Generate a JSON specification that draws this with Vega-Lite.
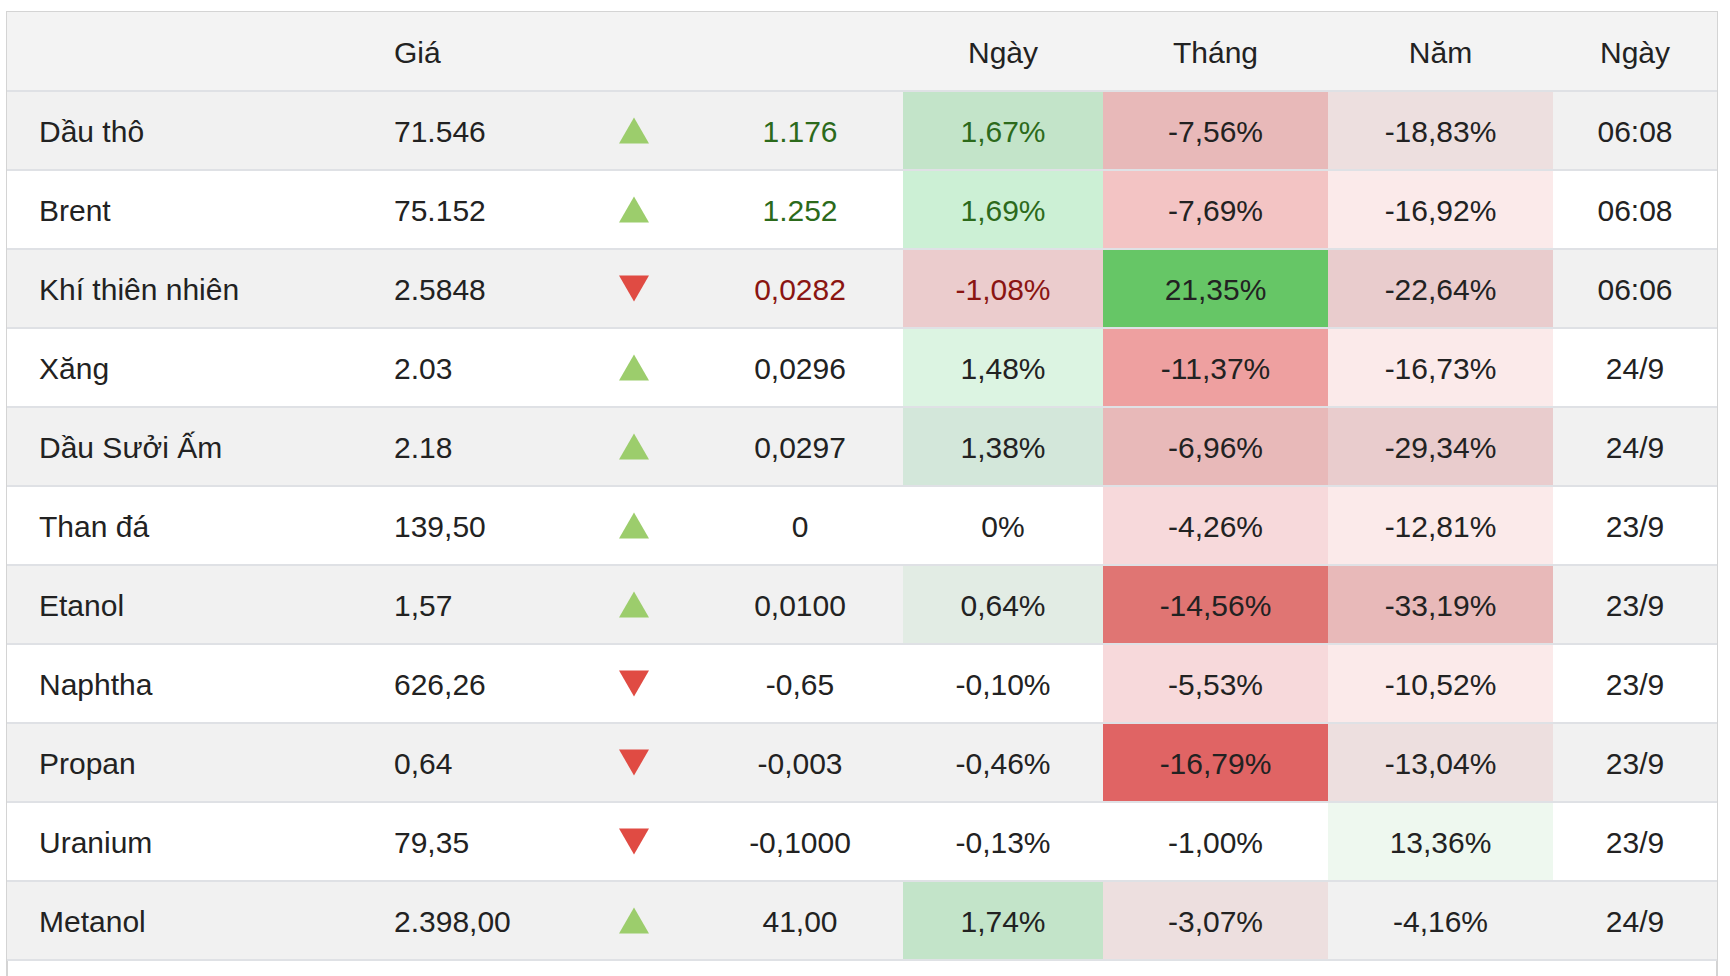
{
  "$schema": "https://vega.github.io/schema/vega-lite/v6.json",
  "width": 1710,
  "height": 968,
  "autosize": {"type": "none"},
  "padding": {"left": 7, "top": 12, "right": 13, "bottom": 0},
  "background": "#ffffff",
  "config": {
    "view": {"stroke": "#d4d4d4", "strokeWidth": 2},
    "text": {"font": "Liberation Sans", "fontSize": 30, "baseline": "middle", "color": "#222222", "dy": 2}
  },
  "datasets": {
    "rows": [
      {"name": "Dầu thô", "gia": "71.546", "dir": "up", "chg": "1.176", "day": "1,67%", "mon": "-7,56%", "yr": "-18,83%", "time": "06:08"},
      {"name": "Brent", "gia": "75.152", "dir": "up", "chg": "1.252", "day": "1,69%", "mon": "-7,69%", "yr": "-16,92%", "time": "06:08"},
      {"name": "Khí thiên nhiên", "gia": "2.5848", "dir": "down", "chg": "0,0282", "day": "-1,08%", "mon": "21,35%", "yr": "-22,64%", "time": "06:06"},
      {"name": "Xăng", "gia": "2.03", "dir": "up", "chg": "0,0296", "day": "1,48%", "mon": "-11,37%", "yr": "-16,73%", "time": "24/9"},
      {"name": "Dầu Sưởi Ấm", "gia": "2.18", "dir": "up", "chg": "0,0297", "day": "1,38%", "mon": "-6,96%", "yr": "-29,34%", "time": "24/9"},
      {"name": "Than đá", "gia": "139,50", "dir": "up", "chg": "0", "day": "0%", "mon": "-4,26%", "yr": "-12,81%", "time": "23/9"},
      {"name": "Etanol", "gia": "1,57", "dir": "up", "chg": "0,0100", "day": "0,64%", "mon": "-14,56%", "yr": "-33,19%", "time": "23/9"},
      {"name": "Naphtha", "gia": "626,26", "dir": "down", "chg": "-0,65", "day": "-0,10%", "mon": "-5,53%", "yr": "-10,52%", "time": "23/9"},
      {"name": "Propan", "gia": "0,64", "dir": "down", "chg": "-0,003", "day": "-0,46%", "mon": "-16,79%", "yr": "-13,04%", "time": "23/9"},
      {"name": "Uranium", "gia": "79,35", "dir": "down", "chg": "-0,1000", "day": "-0,13%", "mon": "-1,00%", "yr": "13,36%", "time": "23/9"},
      {"name": "Metanol", "gia": "2.398,00", "dir": "up", "chg": "41,00", "day": "1,74%", "mon": "-3,07%", "yr": "-4,16%", "time": "24/9"}
    ],
    "header": [{"name": "header"}]
  },
  "resolve": {"scale": {"fill": "independent", "color": "independent"}},
  "layer": [
    {
      "data": {"name": "rows"},
      "mark": {"type": "rect"},
      "encoding": {
        "x": {"datum": 0, "type": "quantitative", "axis": null,
              "scale": {"type": "linear", "domain": [0, 1, 2, 3, 4, 5, 6, 7, 8, 9], "range": [0, 32, 387, 627, 793, 896, 1096, 1321, 1546, 1710], "nice": false, "zero": false}},
        "x2": {"datum": 9},
        "y": {"field": "name", "type": "nominal", "axis": null,
              "scale": {"type": "band", "domain": ["header", "Dầu thô", "Brent", "Khí thiên nhiên", "Xăng", "Dầu Sưởi Ấm", "Than đá", "Etanol", "Naphtha", "Propan", "Uranium", "Metanol"], "range": [0, 948], "paddingInner": 0, "paddingOuter": 0}},
        "fill": {"field": "name", "type": "nominal", "legend": null,
                 "scale": {"domain": ["Dầu thô", "Brent", "Khí thiên nhiên", "Xăng", "Dầu Sưởi Ấm", "Than đá", "Etanol", "Naphtha", "Propan", "Uranium", "Metanol"],
                           "range": ["#f1f1f1", "#ffffff", "#f1f1f1", "#ffffff", "#f1f1f1", "#ffffff", "#f1f1f1", "#ffffff", "#f1f1f1", "#ffffff", "#f1f1f1"]}}
      }
    },
    {
      "data": {"name": "header"},
      "mark": {"type": "rect", "fill": "#f3f3f3"},
      "encoding": {
        "x": {"datum": 0, "type": "quantitative", "axis": null},
        "x2": {"datum": 9},
        "y": {"field": "name", "type": "nominal", "axis": null}
      }
    },
    {
      "data": {"name": "rows"},
      "mark": {"type": "rect"},
      "encoding": {
        "x": {"datum": 5, "type": "quantitative", "axis": null},
        "x2": {"datum": 6},
        "y": {"field": "name", "type": "nominal", "axis": null},
        "fill": {"field": "day", "type": "nominal", "legend": null,
                 "scale": {"domain": ["1,67%", "1,69%", "-1,08%", "1,48%", "1,38%", "0%", "0,64%", "-0,10%", "-0,46%", "-0,13%", "1,74%"],
                           "range": ["#c3e4c9", "#ccf0d5", "#ebcccd", "#dcf4e2", "#d3e7da", "rgba(0,0,0,0)", "#e2ece4", "rgba(0,0,0,0)", "rgba(0,0,0,0)", "rgba(0,0,0,0)", "#c3e4c9"]}}
      }
    },
    {
      "data": {"name": "rows"},
      "mark": {"type": "rect"},
      "encoding": {
        "x": {"datum": 6, "type": "quantitative", "axis": null},
        "x2": {"datum": 7},
        "y": {"field": "name", "type": "nominal", "axis": null},
        "fill": {"field": "mon", "type": "nominal", "legend": null,
                 "scale": {"domain": ["-7,56%", "-7,69%", "21,35%", "-11,37%", "-6,96%", "-4,26%", "-14,56%", "-5,53%", "-16,79%", "-1,00%", "-3,07%"],
                           "range": ["#e8b9b9", "#f3c4c4", "#66c666", "#eea0a0", "#e8b9b9", "#f7d9db", "#e07573", "#f7d9db", "#e06464", "rgba(0,0,0,0)", "#eddfdf"]}}
      }
    },
    {
      "data": {"name": "rows"},
      "mark": {"type": "rect"},
      "encoding": {
        "x": {"datum": 7, "type": "quantitative", "axis": null},
        "x2": {"datum": 8},
        "y": {"field": "name", "type": "nominal", "axis": null},
        "fill": {"field": "yr", "type": "nominal", "legend": null,
                 "scale": {"domain": ["-18,83%", "-16,92%", "-22,64%", "-16,73%", "-29,34%", "-12,81%", "-33,19%", "-10,52%", "-13,04%", "13,36%", "-4,16%"],
                           "range": ["#eddfdf", "#fbeaea", "#e9cccd", "#fbeaea", "#e9cccd", "#fbeaea", "#e8b9b9", "#fbeaea", "#eddfdf", "#eef8ef", "rgba(0,0,0,0)"]}}
      }
    },
    {
      "data": {"name": "rows"},
      "mark": {"type": "rule", "stroke": "#dfe1e5", "strokeWidth": 2},
      "encoding": {
        "x": {"datum": 0, "type": "quantitative", "axis": null},
        "x2": {"datum": 9},
        "y": {"field": "name", "type": "nominal", "axis": null, "bandPosition": 0}
      }
    },
    {
      "data": {"name": "rows"},
      "transform": [{"filter": "datum.name == 'Metanol'"}],
      "mark": {"type": "rule", "stroke": "#dfe1e5", "strokeWidth": 2},
      "encoding": {
        "x": {"datum": 0, "type": "quantitative", "axis": null},
        "x2": {"datum": 9},
        "y": {"field": "name", "type": "nominal", "axis": null, "bandPosition": 1}
      }
    },
    {
      "data": {"name": "rows"},
      "mark": {"type": "point", "filled": true, "opacity": 1, "size": 900, "strokeWidth": 0},
      "encoding": {
        "x": {"datum": 3, "type": "quantitative", "axis": null},
        "y": {"field": "name", "type": "nominal", "axis": null},
        "shape": {"field": "dir", "type": "nominal", "legend": null, "scale": {"domain": ["up", "down"], "range": ["triangle-up", "triangle-down"]}},
        "color": {"field": "dir", "type": "nominal", "legend": null, "scale": {"domain": ["up", "down"], "range": ["#9ccd6c", "#e04b43"]}}
      }
    },
    {
      "data": {"name": "rows"},
      "mark": {"type": "text", "align": "left"},
      "encoding": {
        "x": {"datum": 1, "type": "quantitative", "axis": null},
        "y": {"field": "name", "type": "nominal", "axis": null},
        "text": {"field": "name"}
      }
    },
    {
      "data": {"name": "rows"},
      "mark": {"type": "text", "align": "left"},
      "encoding": {
        "x": {"datum": 2, "type": "quantitative", "axis": null},
        "y": {"field": "name", "type": "nominal", "axis": null},
        "text": {"field": "gia"}
      }
    },
    {
      "data": {"name": "rows"},
      "mark": {"type": "text", "align": "center"},
      "encoding": {
        "x": {"datum": 4, "type": "quantitative", "axis": null},
        "y": {"field": "name", "type": "nominal", "axis": null},
        "text": {"field": "chg"},
        "color": {"field": "name", "type": "nominal", "legend": null,
                  "scale": {"domain": ["Dầu thô", "Brent", "Khí thiên nhiên", "Xăng", "Dầu Sưởi Ấm", "Than đá", "Etanol", "Naphtha", "Propan", "Uranium", "Metanol"],
                            "range": ["#2c6a1b", "#2c6a1b", "#8a1512", "#222222", "#222222", "#222222", "#222222", "#222222", "#222222", "#222222", "#222222"]}}
      }
    },
    {
      "data": {"name": "rows"},
      "mark": {"type": "text", "align": "center"},
      "encoding": {
        "x": {"datum": 5.5, "type": "quantitative", "axis": null},
        "y": {"field": "name", "type": "nominal", "axis": null},
        "text": {"field": "day"},
        "color": {"field": "name", "type": "nominal", "legend": null,
                  "scale": {"domain": ["Dầu thô", "Brent", "Khí thiên nhiên", "Xăng", "Dầu Sưởi Ấm", "Than đá", "Etanol", "Naphtha", "Propan", "Uranium", "Metanol"],
                            "range": ["#2c6a1b", "#2c6a1b", "#8a1512", "#222222", "#222222", "#222222", "#222222", "#222222", "#222222", "#222222", "#222222"]}}
      }
    },
    {
      "data": {"name": "rows"},
      "mark": {"type": "text", "align": "center"},
      "encoding": {
        "x": {"datum": 6.5, "type": "quantitative", "axis": null},
        "y": {"field": "name", "type": "nominal", "axis": null},
        "text": {"field": "mon"}
      }
    },
    {
      "data": {"name": "rows"},
      "mark": {"type": "text", "align": "center"},
      "encoding": {
        "x": {"datum": 7.5, "type": "quantitative", "axis": null},
        "y": {"field": "name", "type": "nominal", "axis": null},
        "text": {"field": "yr"}
      }
    },
    {
      "data": {"name": "rows"},
      "mark": {"type": "text", "align": "center"},
      "encoding": {
        "x": {"datum": 8.5, "type": "quantitative", "axis": null},
        "y": {"field": "name", "type": "nominal", "axis": null},
        "text": {"field": "time"}
      }
    },
    {
      "data": {"values": [{"name": "header", "label": "Giá"}]},
      "mark": {"type": "text", "align": "left"},
      "encoding": {
        "x": {"datum": 2, "type": "quantitative", "axis": null},
        "y": {"field": "name", "type": "nominal", "axis": null},
        "text": {"field": "label"}
      }
    },
    {
      "data": {"values": [{"name": "header", "label": "Ngày"}]},
      "mark": {"type": "text", "align": "center"},
      "encoding": {
        "x": {"datum": 5.5, "type": "quantitative", "axis": null},
        "y": {"field": "name", "type": "nominal", "axis": null},
        "text": {"field": "label"}
      }
    },
    {
      "data": {"values": [{"name": "header", "label": "Tháng"}]},
      "mark": {"type": "text", "align": "center"},
      "encoding": {
        "x": {"datum": 6.5, "type": "quantitative", "axis": null},
        "y": {"field": "name", "type": "nominal", "axis": null},
        "text": {"field": "label"}
      }
    },
    {
      "data": {"values": [{"name": "header", "label": "Năm"}]},
      "mark": {"type": "text", "align": "center"},
      "encoding": {
        "x": {"datum": 7.5, "type": "quantitative", "axis": null},
        "y": {"field": "name", "type": "nominal", "axis": null},
        "text": {"field": "label"}
      }
    },
    {
      "data": {"values": [{"name": "header", "label": "Ngày"}]},
      "mark": {"type": "text", "align": "center"},
      "encoding": {
        "x": {"datum": 8.5, "type": "quantitative", "axis": null},
        "y": {"field": "name", "type": "nominal", "axis": null},
        "text": {"field": "label"}
      }
    }
  ]
}
